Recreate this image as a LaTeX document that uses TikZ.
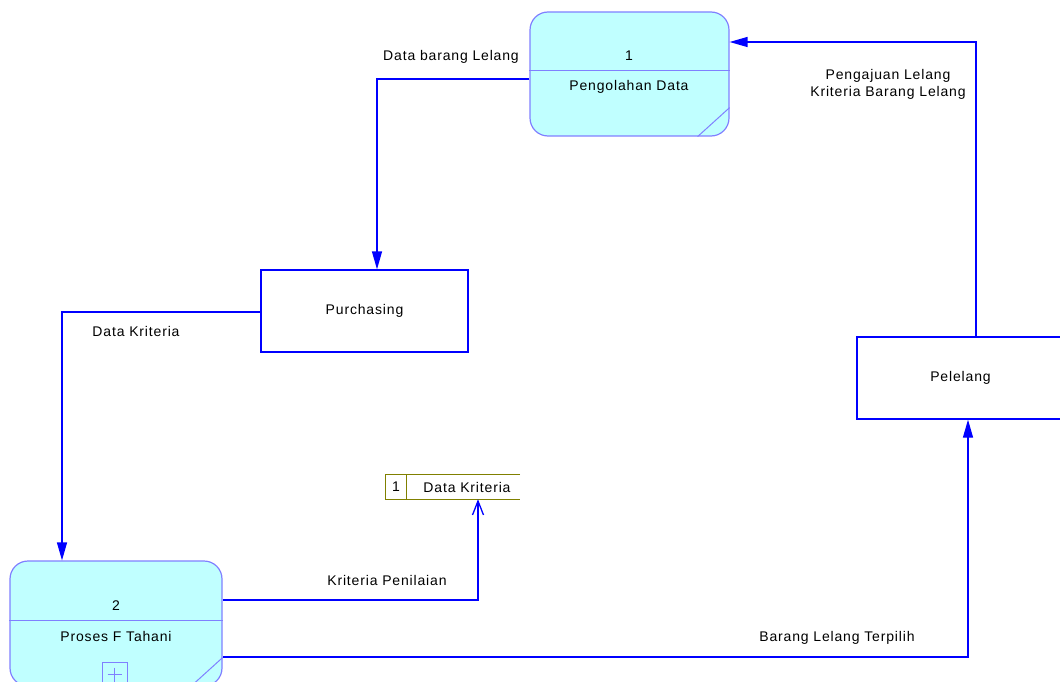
\documentclass[tikz,border=0pt]{standalone}
\usepackage{fontspec}
\setmainfont{Liberation Sans}[LetterSpace=6]
\usetikzlibrary{arrows.meta,calc}
\definecolor{flowblue}{RGB}{0,0,255}
\definecolor{procfill}{RGB}{192,255,255}
\definecolor{procline}{RGB}{128,128,255}
\definecolor{storeline}{RGB}{128,128,0}
\begin{document}
\begin{tikzpicture}[x=1pt,y=-1pt,
  font=\fontsize{14}{16}\selectfont,
  proc/.style={draw=procline, fill=procfill, line width=1.2pt, rounded corners=18pt, inner sep=0pt},
  entity/.style={draw=flowblue, line width=1.3pt, fill=white, inner sep=0pt,
                 minimum width=207pt, minimum height=82pt},
  divider/.style={draw=procline, line width=1pt},
  flow/.style={draw=flowblue, line width=1.3pt, -{Triangle[length=18pt,width=10pt]}},
  flowopen/.style={draw=flowblue, line width=1.3pt, -{Straight Barb[length=14pt,width=11pt,line width=1.3pt]}},
  lbl/.style={inner sep=0pt, text=black}]
\useasboundingbox (0,0) rectangle (1060,682);
\clip (0,0) rectangle (1060,682);

% process 1
\node[proc, minimum width=199pt, minimum height=124pt] (p1) at (629.5,74) {};
\draw[divider] ($(p1.north west)+(0,59)$) -- ($(p1.north east)+(0,59)$);
\draw[divider] ($(p1.south east)+(0,-29)$) -- ($(p1.south east)+(-32,0)$);
\node[lbl] (p1num) at (629,56) {1};
\node[lbl] (p1name) at (629,87) {Pengolahan Data};

% process 2
\node[proc, minimum width=212pt, minimum height=125pt] (p2) at (116,623.5) {};
\draw[divider] ($(p2.north west)+(0,60)$) -- ($(p2.north east)+(0,60)$);
\draw[divider] ($(p2.south east)+(0,-29)$) -- ($(p2.south east)+(-32,0)$);
\node[lbl] (p2num) at (116,606) {2};
\node[lbl] (p2name) at (116,636) {Proses F Tahani};
\node[draw=procline, line width=1pt, minimum width=25pt, minimum height=25pt, inner sep=0pt] (plus) at (114.5,674.5) {};
\draw[divider] ($(plus.center)+(-7,0)$) -- ($(plus.center)+(7,0)$);
\draw[divider] ($(plus.center)+(0,-7)$) -- ($(plus.center)+(0,7)$);

% external entities
\node[entity] (purch) at (364.5,311) {Purchasing};
\node[entity] (pel) at (960.5,378) {Pelelang};

% data store
\node[minimum width=134pt, minimum height=24pt, inner sep=0pt] (store) at (453,487) {};
\draw[storeline, line width=1pt] (store.north east) -- (store.north west) -- (store.south west) -- (store.south east);
\draw[storeline, line width=1pt] ($(store.north west)+(21,0)$) -- ($(store.south west)+(21,0)$);
\node[lbl] (storenum) at (396,487) {1};
\node[lbl] (storename) at (467,487) {Data Kriteria};

% data flows
\draw[flow] ($(p1.west)+(0,5)$) -| ($(purch.north)+(12.5,0)$);
\draw[flow] ($(purch.west)+(0,1)$) -| ($(p2.north)+(-54,0)$);
\draw[flowopen] ($(p2.east)+(0,-23.5)$) -| ($(store.south)+(25,0)$);
\draw[flow] ($(p2.east)+(0,33.5)$) -| ($(pel.south)+(7.5,0)$);
\draw[flow] ($(pel.north)+(15.5,0)$) |- ($(p1.east)+(0,-32)$);

% flow labels
\node[lbl] (l1) at (451,57) {Data barang Lelang};
\node[lbl] (l2) at (136,331) {Data Kriteria};
\node[lbl] (l3) at (387,580) {Kriteria Penilaian};
\node[lbl] (l4) at (837,638) {Barang Lelang Terpilih};
\node[lbl, align=center, font=\fontsize{14}{17}\selectfont] (l5) at (888,84.5) {Pengajuan Lelang\\Kriteria Barang Lelang};
\end{tikzpicture}
\end{document}
